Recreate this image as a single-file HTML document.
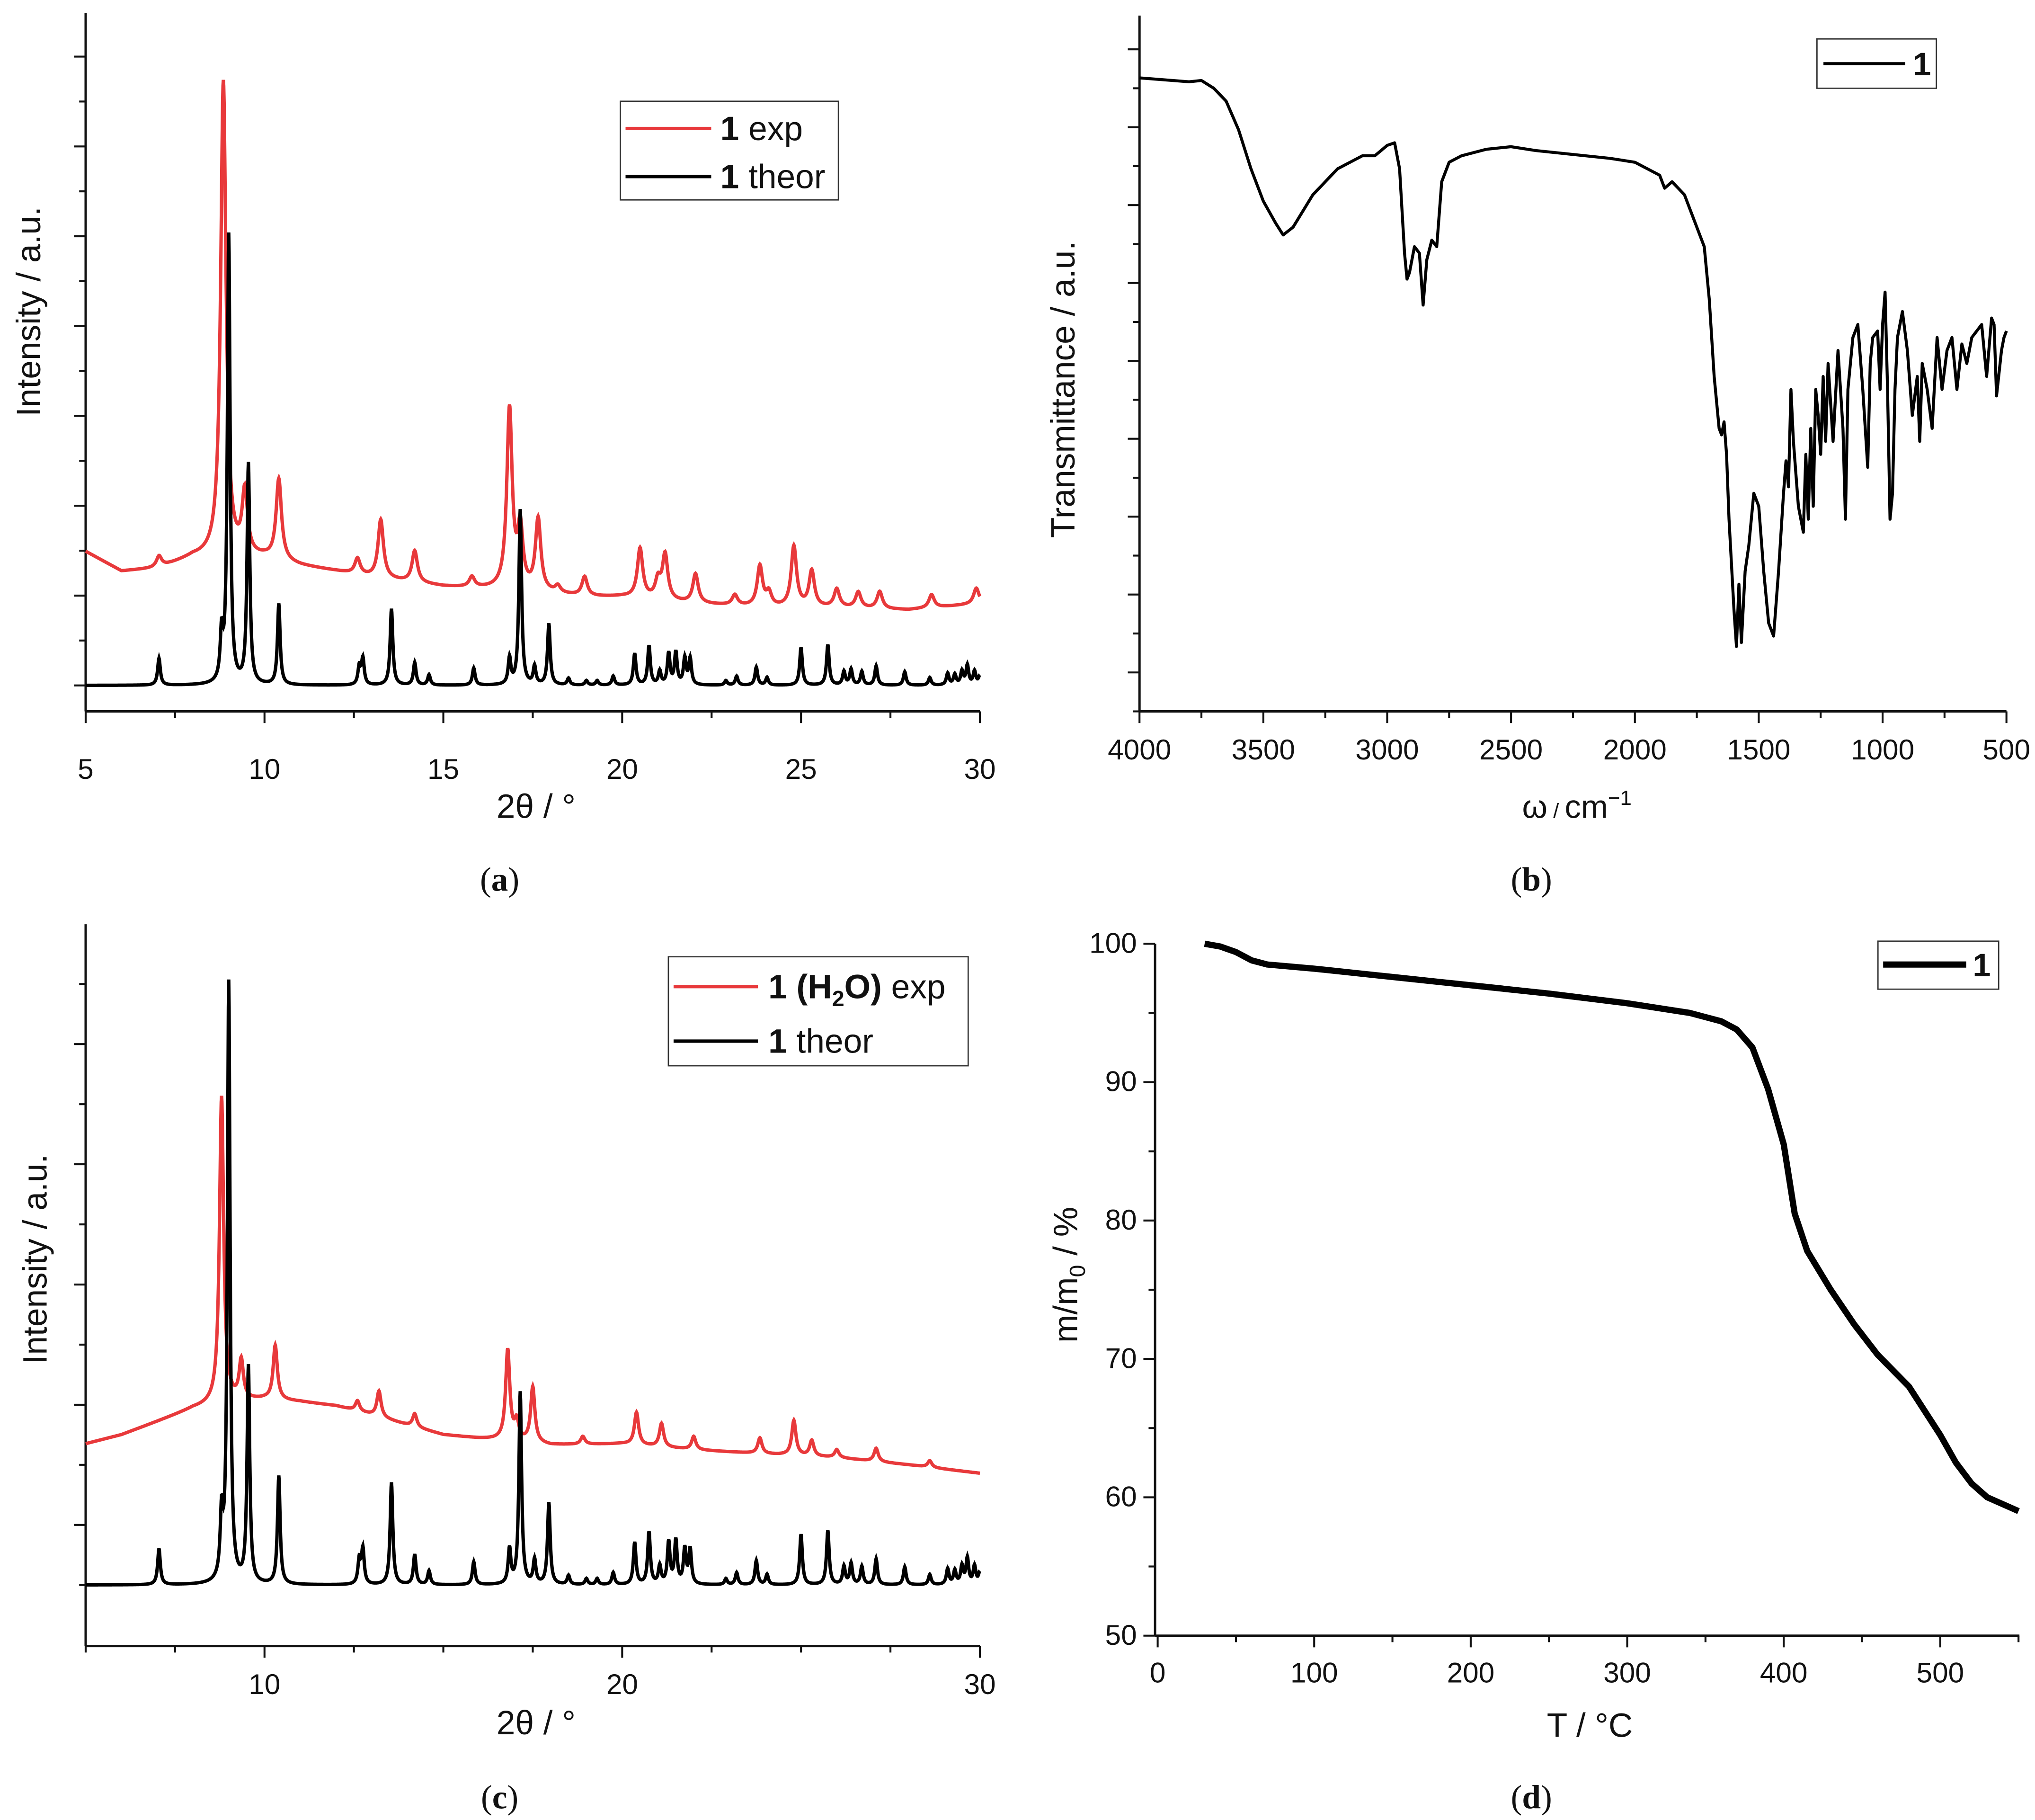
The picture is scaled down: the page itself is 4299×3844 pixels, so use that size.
<!DOCTYPE html>
<html><head><meta charset="utf-8"><style>
html,body{margin:0;padding:0;background:#fff;}
svg{display:block;}
text{font-family:"Liberation Sans",sans-serif;fill:#111;}
.serif{font-family:"Liberation Serif",serif;}
</style></head><body>
<svg id="fig" width="4299" height="3844" viewBox="0 0 1568 1402" preserveAspectRatio="none" xmlns="http://www.w3.org/2000/svg"></svg>
<script>
// ---- Panel a/c: PXRD data ----
const theorPeaks = [7.05,8.8,9.0,9.55,10.4,12.65,12.75,13.55,14.2,14.6,15.85,16.85,17.15,17.55,17.95,18.5,19.0,19.3,19.75,20.35,20.75,21.05,21.3,21.5,21.75,21.9,22.9,23.2,23.75,24.05,25.0,25.75,26.2,26.4,26.7,27.1,27.9,28.6,29.1,29.3,29.5,29.65,29.85,30.0];
const theorHeights = [6,10,100,49,18,4,5.8,17,5,2.3,3.8,5.8,39,4,13.6,1.5,1,1,2,7,8.7,3,7,7.2,5.8,5.8,1,2,4,1.7,8.4,9,3,3.5,3,4.3,3,1.7,2.6,2.3,3,4.3,3,2];
const theorHeightsC = [6,10,100,36,18,4,5.8,17,5,2.3,3.8,5.8,32,4,13.6,1.5,1,1,2,7,8.7,3,7,7.2,5.8,5.8,1,2,4,1.7,8.4,9,3,3.5,3,4.3,3,1.7,2.6,2.3,3,4.3,3,2];
const expABgX = [5,6,7,8,10,11,12,13,15,17,19,20,22,24,26,28,30];
const expABgY = [29.8,25.4,26,28.5,28.3,26.6,25.4,24,22,21.1,19.7,19.7,18.2,17.3,17.3,16.8,18.2];
const expAPeaks = [7.05,8.85,9.45,10.4,12.6,13.25,14.2,15.8,16.85,17.15,17.65,18.2,18.95,20.5,21.0,21.2,22.05,23.15,23.85,24.1,24.8,25.3,26.0,26.6,27.2,28.65,29.9];
const expAHeights = [2.5,106,14,18,3.5,13,7,2.3,40,13,16,1.5,4.3,11,4,10,6.5,2.3,9,3,13.5,8,4,3.5,3.8,2.9,3.5];
const expCBgX = [5,6,7,8,9,10,11,12,13,14,15,16,17,18,20,22,24,26,28,30];
const expCBgY = [23.5,25,27.2,29.4,30.5,30.9,30.5,29.8,28.3,26.6,25,24.4,24,23.3,23.5,22.5,21.8,21.2,20,18.6];
const expCPeaks = [8.8,9.35,10.3,12.6,13.2,14.2,16.8,17.05,17.5,18.9,20.4,21.1,22.0,23.85,24.8,25.3,26.0,27.1,28.6];
const expCHeights = [51,6.5,9,1.7,4.3,2.2,15,3,9.2,1.3,5.4,3.9,2.2,2.6,5.8,2.6,1.3,2.2,1.1];
const xTicksA = [5,10,15,20,25,30];
const xTicksC = [10,20,30];
// ---- Panel b: IR ----
const irWavenumber = [4000,3800,3750,3700,3650,3600,3550,3500,3450,3420,3380,3300,3200,3100,3050,3000,2970,2950,2930,2920,2910,2890,2870,2855,2840,2820,2800,2780,2750,2700,2600,2500,2400,2300,2200,2100,2000,1900,1880,1850,1800,1760,1720,1700,1680,1660,1650,1640,1630,1620,1600,1590,1580,1570,1555,1540,1520,1500,1480,1460,1440,1420,1400,1390,1380,1370,1360,1340,1320,1310,1300,1290,1280,1270,1260,1250,1240,1230,1220,1200,1180,1160,1150,1140,1120,1100,1080,1060,1050,1040,1020,1010,1000,990,980,970,960,950,940,920,900,880,860,850,840,820,800,780,760,740,720,700,680,660,640,620,600,580,560,550,540,520,510,500];
const irTransmittance = [488,485,486,480,470,448,418,393,376,367,373,398,418,428,428,436,438,418,353,333,338,358,353,313,348,363,358,408,423,428,433,435,432,430,428,426,423,413,403,408,398,378,358,318,258,218,213,223,198,148,78,50,98,53,108,128,168,158,108,68,58,108,168,193,173,248,208,158,138,198,148,218,158,248,228,198,258,208,268,208,278,218,148,248,288,298,248,188,268,288,293,248,298,323,248,148,168,248,288,308,278,228,258,208,268,248,218,288,248,278,288,248,283,268,288,293,298,258,303,298,243,278,288,293];
const irXTicks = [4000,3500,3000,2500,2000,1500,1000,500];
// ---- Panel d: TGA ----
const tgaT = [30,40,50,60,70,100,150,200,250,300,340,360,370,380,390,400,407,415,430,445,460,480,500,510,520,530,540,550];
const tgaMass = [100,99.8,99.4,98.8,98.5,98.2,97.6,97.0,96.4,95.7,95.0,94.4,93.8,92.5,89.5,85.5,80.5,77.8,75.0,72.5,70.3,68,64.5,62.5,61,60,59.5,59];
const tgaXTicks = [0,100,200,300,400,500];
const tgaYTicks = [50,60,70,80,90,100];

const svg = document.getElementById('fig');
const NS = 'http://www.w3.org/2000/svg';
function mk(tag, attrs, parent){const e=document.createElementNS(NS,tag);for(const k in attrs)e.setAttribute(k,attrs[k]);(parent||svg).appendChild(e);return e;}
function lin(d0,d1,r0,r1){return v=>r0+(v-d0)/(d1-d0)*(r1-r0);}
function interp(xs,ys,x){if(x<=xs[0])return ys[0];for(let i=1;i<xs.length;i++){if(x<=xs[i]){const t=(x-xs[i-1])/(xs[i]-xs[i-1]);return ys[i-1]+t*(ys[i]-ys[i-1]);}}return ys[ys.length-1];}
function profile(x,pos,h,g,bx,by){let y=bx?interp(bx,by,x):0;for(let i=0;i<pos.length;i++){const d=(x-pos[i])/g;y+=h[i]/(1+d*d);}return y;}

function axes(g,x0,x1,y0,y1){
  const a=mk('line',{x1:x0,y1:y0,x2:x1,y2:y0,stroke:'#111','stroke-width':1.8},g);
  
  
  const b=mk('line',{x1:x0,y1:y0,x2:x0,y2:y1,stroke:'#111','stroke-width':1.8},g);
  
  
}
function tick(g,x1,y1,x2,y2){mk('line',{x1:x1,y1:y1,x2:x2,y2:y2,stroke:'#111','stroke-width':1.5},g);}
function txt(g,x,y,s,size,anchor,cls){const t=mk('text',{x:x,y:y,'font-size':size,'text-anchor':anchor||'middle'},g);if(cls)t.setAttribute('class',cls);t.textContent=s;return t;}

function pathFrom(pts){return 'M'+pts.map(p=>p[0].toFixed(2)+','+p[1].toFixed(2)).join('L');}

// ===== Panel a =====
(function(){
  const g=mk('g',{});
  
  
  const X=lin(5,30,66,755), Y=lin(0,100,528,182);
  axes(g,66,755,548,10);
  for(let v=5;v<=30;v+=2.5){const maj=(v%5===0);tick(g,X(v),548,X(v),548+(maj?9:5));}
  xTicksA.forEach(v=>{const t=txt(g,X(v),600,String(v),22);});
  for(let i=0;i<16;i++){const y=528-i*34.6;if(y<10)break;tick(g,66,y,66-(i%2===0?9:5),y);}
  const pR=[],pB=[];
  for(let x=5;x<=30.0001;x+=0.01){pR.push([X(x),Y(profile(x,expAPeaks,expAHeights,0.09,expABgX,expABgY))]);pB.push([X(x),Y(profile(x,theorPeaks,theorHeights,0.045))]);}
  const r=mk('path',{d:pathFrom(pR),fill:'none',stroke:'#e8393b','stroke-width':2.6},g);
  
  
  const b=mk('path',{d:pathFrom(pB),fill:'none',stroke:'#000','stroke-width':2.6},g);
  
  
  const yl=txt(g,0,0,'Intensity / a.u.',26);yl.setAttribute('transform','translate(31,240) rotate(-90)');
  
  const xl=txt(g,413,630,'2θ / °',26);
  const cap=txt(g,385,686,'',26,'middle','serif');cap.innerHTML='(<tspan font-weight="bold">a</tspan>)';
  
  const lg=mk('g',{},g);
  mk('rect',{x:478,y:78,width:168,height:76,fill:'#fff',stroke:'#333','stroke-width':1},lg);
  mk('line',{x1:482,y1:99,x2:548,y2:99,stroke:'#e8393b','stroke-width':2.6},lg);
  mk('line',{x1:482,y1:136,x2:548,y2:136,stroke:'#000','stroke-width':2.6},lg);
  const l1=txt(lg,555,108,'',26,'start');l1.innerHTML='<tspan font-weight="bold">1</tspan> exp';
  const l2=txt(lg,555,145,'',26,'start');l2.innerHTML='<tspan font-weight="bold">1</tspan> theor';
})();

// ===== Panel b =====
(function(){
  const g=mk('g',{});
  
  
  const X=lin(4000,500,878,1546), Y=lin(0,536,548,12);
  axes(g,878,1546,548,12);
  for(let v=4000;v>=500;v-=250){const maj=(v%500===0);tick(g,X(v),548,X(v),548+(maj?9:5));}
  irXTicks.forEach(v=>{const t=txt(g,X(v),585,String(v),22);});
  for(let i=0;i<18;i++){const y=548-i*30;if(y<12)break;tick(g,878,y,878-(i%2===0?5:9),y);}
  const pts=irWavenumber.map((w,i)=>[X(w),Y(irTransmittance[i])]);
  const p=mk('path',{d:pathFrom(pts),fill:'none',stroke:'#000','stroke-width':2.3,'stroke-linejoin':'round'},g);
  
  
  const yl=txt(g,0,0,'Transmittance  / a.u.',26);yl.setAttribute('transform','translate(828,300) rotate(-90)');
  
  const xl=txt(g,1215,630,'',25);xl.innerHTML='ω<tspan font-size="16"> / </tspan>cm<tspan font-size="16" dy="-10">−1</tspan>';
  
  const cap=txt(g,1180,686,'',26,'middle','serif');cap.innerHTML='(<tspan font-weight="bold">b</tspan>)';
  
  const lg=mk('g',{},g);
  mk('rect',{x:1400,y:30,width:92,height:38,fill:'#fff',stroke:'#333','stroke-width':1},lg);
  mk('line',{x1:1405,y1:49,x2:1468,y2:49,stroke:'#000','stroke-width':2.3},lg);
  txt(lg,1474,58,'1',25,'start').setAttribute('font-weight','bold');
})();

// ===== Panel c =====
(function(){
  const g=mk('g',{});
  
  
  const X=lin(5,30,66,755), Y=lin(0,100,1221,758);
  axes(g,66,755,1268,712);
  for(let v=5;v<=30;v+=2.5){const maj=(v%10===0);tick(g,X(v),1268,X(v),1268+(maj?9:5));}
  xTicksC.forEach(v=>{const t=txt(g,X(v),1305,String(v),22);});
  for(let i=0;i<14;i++){const y=1221-i*46.3;if(y<712)break;tick(g,66,y,66-(i%2===0?5:9),y);}
  const pR=[],pB=[];
  for(let x=5;x<=30.0001;x+=0.01){pR.push([X(x),Y(profile(x,expCPeaks,expCHeights,0.07,expCBgX,expCBgY))]);pB.push([X(x),Y(profile(x,theorPeaks,theorHeightsC,0.045))]);}
  const r=mk('path',{d:pathFrom(pR),fill:'none',stroke:'#e8393b','stroke-width':2.6},g);
  
  
  const b=mk('path',{d:pathFrom(pB),fill:'none',stroke:'#000','stroke-width':2.6},g);
  
  
  const yl=txt(g,0,0,'Intensity / a.u.',26);yl.setAttribute('transform','translate(36,970) rotate(-90)');
  
  const xl=txt(g,413,1336,'2θ / °',26);
  const cap=txt(g,385,1393,'',26,'middle','serif');cap.innerHTML='(<tspan font-weight="bold">c</tspan>)';
  
  const lg=mk('g',{},g);
  mk('rect',{x:515,y:737,width:231,height:84,fill:'#fff',stroke:'#333','stroke-width':1},lg);
  mk('line',{x1:519,y1:760,x2:584,y2:760,stroke:'#e8393b','stroke-width':2.6},lg);
  mk('line',{x1:519,y1:802,x2:584,y2:802,stroke:'#000','stroke-width':2.6},lg);
  const l1=txt(lg,592,769,'',26,'start');l1.innerHTML='<tspan font-weight="bold">1 (H<tspan font-size="17" dy="6">2</tspan><tspan dy="-6">O)</tspan></tspan> exp';
  const l2=txt(lg,592,811,'',26,'start');l2.innerHTML='<tspan font-weight="bold">1</tspan> theor';
})();

// ===== Panel d =====
(function(){
  const g=mk('g',{});
  
  
  const X=lin(0,500,892,1495), Y=lin(50,100,1260,727);
  axes(g,890,1556,1260,727);
  for(let v=0;v<=550;v+=50){const maj=(v%100===0);tick(g,X(v),1260,X(v),1260+(maj?9:5));}
  tgaXTicks.forEach(v=>{const t=txt(g,X(v),1296,String(v),22);});
  for(let v=50;v<=100;v+=5){const maj=(v%10===0);tick(g,890,Y(v),890-(maj?9:5),Y(v));}
  tgaYTicks.forEach(v=>{const t=txt(g,876,Y(v)+7,String(v),22,'end');});
  const pts=tgaT.map((t,i)=>[X(t),Y(tgaMass[i])]);
  const p=mk('path',{d:pathFrom(pts),fill:'none',stroke:'#000','stroke-width':4.8,'stroke-linejoin':'round'},g);
  
  
  const yl=txt(g,0,0,'',26);yl.innerHTML='m/m<tspan font-size="17" dy="6">0</tspan><tspan dy="-6">  / %</tspan>';
  yl.setAttribute('transform','translate(830,982) rotate(-90)');
  
  const xl=txt(g,1225,1338,'T / °C',26);
  const cap=txt(g,1180,1393,'',26,'middle','serif');cap.innerHTML='(<tspan font-weight="bold">d</tspan>)';
  
  const lg=mk('g',{},g);
  mk('rect',{x:1447,y:725,width:93,height:37,fill:'#fff',stroke:'#333','stroke-width':1},lg);
  mk('line',{x1:1451,y1:743,x2:1515,y2:743,stroke:'#000','stroke-width':4.8},lg);
  txt(lg,1520,752,'1',25,'start').setAttribute('font-weight','bold');
})();
</script>
</body></html>
